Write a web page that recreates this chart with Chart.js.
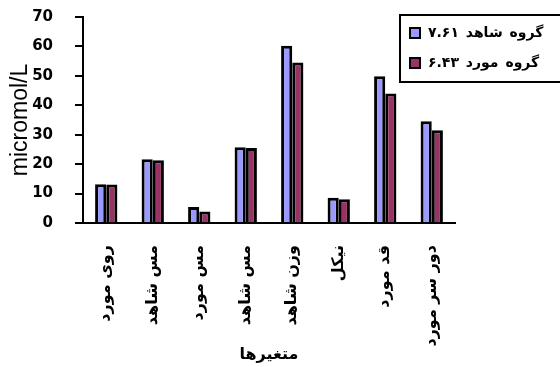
<!DOCTYPE html>
<html>
<head>
<meta charset="utf-8">
<script src="https://cdn.jsdelivr.net/npm/chart.js@4"></script>
<style>
  html, body { margin: 0; padding: 0; background: #fff; overflow: hidden; }
  canvas { display: block; }
</style>
</head>
<body>
<canvas id="chart" width="560" height="367"></canvas>
<script>
// Variables measured in both groups (micromol/L)
const categories = ["روی مورد", "مس شاهد", "مس مورد", "مس شاهد", "وزن شاهد", "نیکل", "قد مورد", "دور سر مورد"];
const seriesNames = ["گروه شاهد ۷.۶۱", "گروه مورد ۶.۴۳"];
const controlValues = [13.2, 21.7, 5.4, 25.7, 60.2, 8.6, 49.9, 34.6];
const caseValues = [13.1, 21.3, 3.9, 25.5, 54.5, 8.1, 44.0, 31.5];
const yTicks = [0, 10, 20, 30, 40, 50, 60, 70];
const xTitle = "متغیرها";
const yTitle = "micromol/L";

// Boxed legend in the upper right corner
const boxLegend = {
  id: 'boxLegend',
  afterDraw(chart) {
    const ctx = chart.ctx;
    ctx.save();
    ctx.fillStyle = '#fff';
    ctx.fillRect(400, 15, 200, 67);
    ctx.lineWidth = 2;
    ctx.strokeStyle = '#000';
    ctx.strokeRect(400, 15, 200, 67);
    chart.data.datasets.forEach((ds, i) => {
      const cy = 33 + i * 30;
      ctx.fillStyle = ds.backgroundColor;
      ctx.fillRect(410, cy - 5, 10, 10);
      ctx.lineWidth = 2;
      ctx.strokeRect(410, cy - 5, 10, 10);
      ctx.fillStyle = '#000';
      ctx.font = 'bold 14px "DejaVu Sans"';
      ctx.letterSpacing = '2px';
      ctx.textBaseline = 'middle';
      ctx.textAlign = 'left';
      ctx.fillText(ds.label, 428, cy);
    });
    ctx.restore();
  }
};

new Chart(document.getElementById('chart'), {
  type: 'bar',
  data: {
    labels: categories,
    datasets: [
      { label: seriesNames[0], data: controlValues, backgroundColor: '#9999FF', borderColor: '#000', borderWidth: 3 },
      { label: seriesNames[1], data: caseValues, backgroundColor: '#993366', borderColor: '#000', borderWidth: 3 }
    ]
  },
  options: {
    responsive: false,
    animation: false,
    events: [],
    layout: { padding: { left: 0, top: 17, right: 105, bottom: 0 } },
    datasets: { bar: { categoryPercentage: 0.48, barPercentage: 1.0 } },
    plugins: { legend: { display: false }, tooltip: { enabled: false } },
    scales: {
      x: {
        grid: { display: false },
        border: { display: true, color: '#000', width: 2 },
        ticks: {
          color: '#000', maxRotation: 90, minRotation: 90, padding: 14, autoSkip: false,
          font: { family: '"DejaVu Sans"', size: 16, weight: 'bold' }
        },
        title: {
          display: true, text: xTitle, color: '#000', padding: { top: 0, bottom: 3 },
          font: { family: '"DejaVu Sans"', size: 16, weight: 'bold' }
        },
        afterFit(scale) {
          scale.height = 144;
          scale.paddingTop = 0; scale.paddingBottom = 0;
        }
      },
      y: {
        min: 0, max: 70,
        afterBuildTicks(scale) { scale.ticks = yTicks.map(v => ({ value: v })); },
        grid: { drawOnChartArea: false, drawTicks: true, tickLength: 8, color: '#000', lineWidth: 2 },
        border: { display: true, color: '#000', width: 2 },
        ticks: {
          color: '#000', padding: 22,
          font: { family: '"DejaVu Sans"', size: 15, weight: 'bold' }
        },
        title: {
          display: true, text: yTitle, color: '#000', padding: { top: 7, bottom: 0 },
          font: { family: '"Liberation Sans"', size: 23 }
        },
        afterFit(scale) {
          scale.width = 83;
          scale.paddingTop = 0; scale.paddingBottom = 0;
        }
      }
    }
  },
  plugins: [boxLegend]
});
</script>
</body>
</html>
